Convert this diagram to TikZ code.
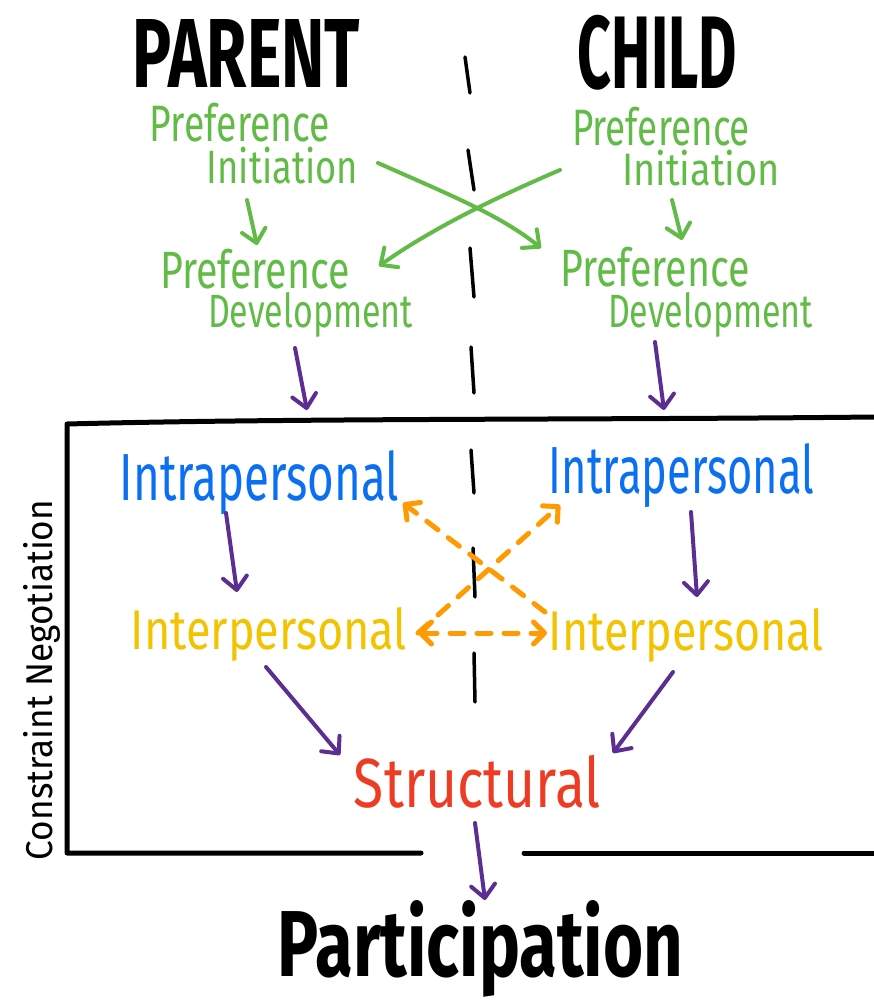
\documentclass[tikz,border=0pt]{standalone}
\usepackage{fontspec}
\setmainfont{Fira Sans}
\usepackage{graphicx}
\usetikzlibrary{arrows.meta}
\definecolor{hgreen}{HTML}{62BB47}
\definecolor{hblue}{HTML}{0B6FF2}
\definecolor{hyellow}{HTML}{F2C300}
\definecolor{horange}{HTML}{FF9A00}
\definecolor{hred}{HTML}{EE3B24}
\definecolor{hpurple}{HTML}{5C2E91}
% \fitw{width}{total height}{text}; \fith{width}{height above baseline}{text}
\newcommand{\fitw}[3]{\resizebox*{#1pt}{#2pt}{#3}}
\newcommand{\fith}[3]{\resizebox{#1pt}{#2pt}{#3}}
\begin{document}
\begin{tikzpicture}[x=1pt,y=-1pt,
  lbl/.style={inner sep=0pt, outer sep=0pt, anchor=center},
  blbl/.style={inner sep=0pt, outer sep=0pt, anchor=base},
  conn/.style={line width=4pt, line cap=round,
    -{Straight Barb[round,length=13pt,width=24pt]}},
  greenarrow/.style={conn, draw=hgreen},
  purplearrow/.style={conn, draw=hpurple},
  orangearrow/.style={line width=5pt, line cap=round, draw=horange,
    dash pattern=on 14pt off 13pt,
    -{Straight Barb[round,length=11pt,width=22pt]}},
  orangedouble/.style={orangearrow,
    {Straight Barb[round,length=11pt,width=22pt]}-{Straight Barb[round,length=11pt,width=22pt]}},
  centerdash/.style={line width=3.5pt, line cap=round, draw=black},
  frame/.style={line width=5pt, line cap=round, line join=round, draw=black}
]
\useasboundingbox (0,0) rectangle (874,1008);

% headings
\node[lbl] (parent) at (246.5,54) {\fitw{227}{68}{\bfseries PARENT}};
\node[lbl] (child) at (657.5,52.5) {\fitw{159}{75}{\bfseries CHILD}};

% centre dashed divider
\draw[centerdash] (465,57) -- (470,93);
\draw[centerdash] (468,150) -- (474,190);
\draw[centerdash] (470,248) -- (474,297);
\draw[centerdash] (471,347) -- (474,393);
\draw[centerdash] (471,450) -- (474,493);
\draw[centerdash] (473,548) -- (475,597);
\draw[centerdash] (474,653) -- (475,702);

% green texts
\node[lbl,text=hgreen] (piL1) at (240,123) {\fitw{180}{39}{Preference}};
\node[lbl,text=hgreen] (piL2) at (282.5,166) {\fitw{151}{37}{Initiation}};
\node[lbl,text=hgreen] (piR1) at (661,127) {\fitw{178}{39}{Preference}};
\node[lbl,text=hgreen] (piR2) at (701,168.5) {\fitw{158}{36}{Initiation}};
\node[lbl,text=hgreen] (pdL1) at (255,269) {\fitw{190}{40}{Preference}};
\node[blbl,text=hgreen] (pdL2) at (310.5,327) {\fith{205}{35}{Development}};
\node[lbl,text=hgreen] (pdR1) at (655,267.5) {\fitw{190}{40}{Preference}};
\node[blbl,text=hgreen] (pdR2) at (710.5,327) {\fith{205}{35}{Development}};

% constraint levels
\node[blbl,text=hblue] (intraL) at (259.5,500) {\fith{279}{50}{Intrapersonal}};
\node[blbl,text=hblue] (intraR) at (681.5,493) {\fith{265}{50}{Intrapersonal}};
\node[blbl,text=hyellow] (interL) at (269,649) {\fith{276}{42}{Interpersonal}};
\node[blbl,text=hyellow] (interR) at (686.5,650) {\fith{275}{42}{Interpersonal}};
\node[lbl,text=hred] (struct) at (477.5,781.5) {\fitw{247}{53}{Structural}};
\node[blbl] (particip) at (480.5,976) {\fith{405}{76}{\bfseries Participation}};
\node[lbl,rotate=90] (cneg) at (41.5,680) {\fitw{360}{37}{Constraint Negotiation}};

% frame
\coordinate (fTL) at (67,424);
\coordinate (fTR) at (874,417);
\coordinate (fBL) at (67,853);
\coordinate (fBLe) at (421,853);
\coordinate (fBRs) at (524,853);
\coordinate (fBR) at (874,853);
\draw[frame] (fTR) .. controls (600,420) and (300,418) .. (fTL) -- (fBL) -- (fBLe);
\draw[frame] (fBRs) -- (fBR);

% arrow end points
\coordinate (gLs) at (247,200); \coordinate (gLe) at (257,245);
\coordinate (gRs) at (672,200); \coordinate (gRe) at (682,240);
\coordinate (x1s) at (378,163); \coordinate (x1e) at (541,248);
\coordinate (x2s) at (560,170); \coordinate (x2e) at (379,266);
\coordinate (p1s) at (295,348); \coordinate (p1e) at (307,410);
\coordinate (p2s) at (655,342); \coordinate (p2e) at (664,410);
\coordinate (p3s) at (226,513); \coordinate (p3e) at (237,592);
\coordinate (p4s) at (691,512); \coordinate (p4e) at (697,597);
\coordinate (p5s) at (266,667); \coordinate (p5e) at (340,755);
\coordinate (p6s) at (673,672); \coordinate (p6e) at (613,753);
\coordinate (p7s) at (475,823); \coordinate (p7e) at (485,900);
\coordinate (oL) at (418,633); \coordinate (oR) at (547,633);
\coordinate (oUR) at (560,505); \coordinate (oRs) at (545,612);
\coordinate (oUL) at (403,503);

% green arrows
\draw[greenarrow] (gLs) -- (gLe);
\draw[greenarrow] (gRs) -- (gRe);
\draw[greenarrow] (x1s) .. controls (450,195) and (500,215) .. (x1e);
\draw[greenarrow] (x2s) .. controls (490,200) and (430,230) .. (x2e);

% purple arrows
\draw[purplearrow] (p1s) -- (p1e);
\draw[purplearrow] (p2s) -- (p2e);
\draw[purplearrow] (p3s) -- (p3e);
\draw[purplearrow] (p4s) -- (p4e);
\draw[purplearrow] (p5s) -- (p5e);
\draw[purplearrow] (p6s) -- (p6e);
\draw[purplearrow] (p7s) -- (p7e);

% orange dashed arrows
\draw[orangedouble] (oL) -- (oR);
\draw[orangearrow] (oL) -- (oUR);
\draw[orangearrow] (oRs) -- (oUL);
\end{tikzpicture}
\end{document}
